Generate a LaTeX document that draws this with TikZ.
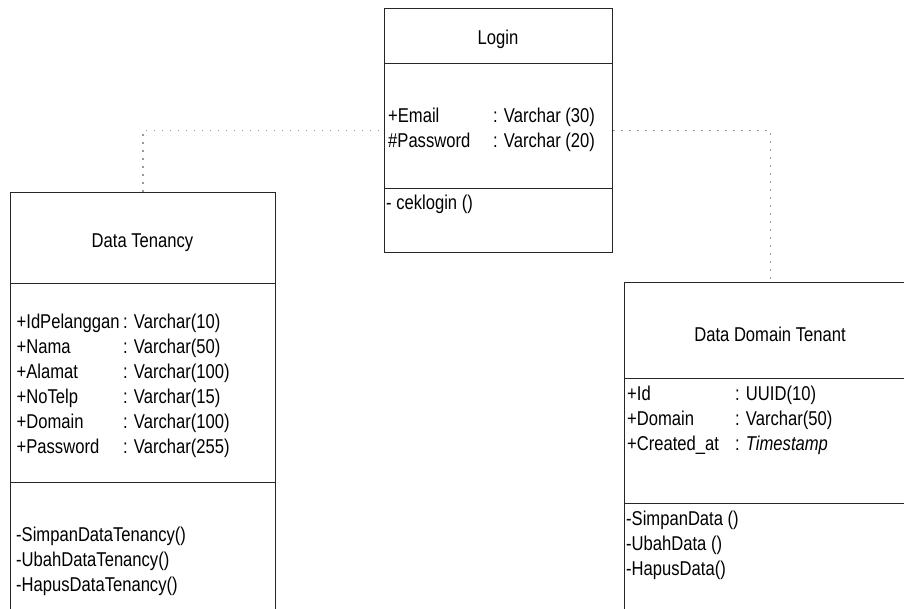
\documentclass[tikz,border=0pt]{standalone}
\usepackage{fontspec}
\newfontfamily\umlfont[FakeStretch=0.83]{Liberation Sans}
\usetikzlibrary{calc}
\begin{document}
\begin{tikzpicture}[x=1pt,y=-1pt,
  box/.style={draw=black!85, line width=1.3pt, rectangle, inner sep=0pt, anchor=north west},
  txt/.style={font=\umlfont\fontsize{20}{25}\selectfont, inner sep=0pt, anchor=base west, text=black},
  ttl/.style={txt, anchor=base},
  conn/.style={draw=black!40, line width=1.6pt, dash pattern=on 1.6pt off 6.4pt}]
\clip (0,0) rectangle (904,608);
% Login
\node[box, minimum width=228pt, minimum height=55pt] (lgT) at (384,8) {};
\node[box, minimum width=228pt, minimum height=125pt] (lgA) at (384,63) {};
\node[box, minimum width=228pt, minimum height=64pt] (lgM) at (384,188) {};
\node[ttl] (lgTt) at (498,44.5) {Login};
\node[txt] (lgA1) at (388,122) {\makebox[105pt][l]{+Email}: Varchar (30)};
\node[txt] (lgA2) at (388,147) {\makebox[105pt][l]{\#Password}: Varchar (20)};
\node[txt] (lgM1) at (386,209) {- ceklogin ()};
% Data Tenancy
\node[box, minimum width=265pt, minimum height=91pt] (dtT) at (10,192) {};
\node[box, minimum width=265pt, minimum height=199pt] (dtA) at (10,283) {};
\node[box, minimum width=265pt, minimum height=178pt] (dtM) at (10,482) {};
\node[ttl] (dtTt) at (142.5,247.5) {Data Tenancy};
\node[txt] (dtA1) at (16.5,328) {\makebox[106.5pt][l]{+IdPelanggan}: Varchar(10)};
\node[txt] (dtA2) at (16.5,353) {\makebox[106.5pt][l]{+Nama}: Varchar(50)};
\node[txt] (dtA3) at (16.5,378) {\makebox[106.5pt][l]{+Alamat}: Varchar(100)};
\node[txt] (dtA4) at (16.5,403) {\makebox[106.5pt][l]{+NoTelp}: Varchar(15)};
\node[txt] (dtA5) at (16.5,428) {\makebox[106.5pt][l]{+Domain}: Varchar(100)};
\node[txt] (dtA6) at (16.5,453) {\makebox[106.5pt][l]{+Password}: Varchar(255)};
\node[txt] (dtM1) at (16,541.5) {-SimpanDataTenancy()};
\node[txt] (dtM2) at (16,566.5) {-UbahDataTenancy()};
\node[txt] (dtM3) at (16,591.5) {-HapusDataTenancy()};
% Data Domain Tenant
\node[box, minimum width=292pt, minimum height=96pt] (ddT) at (624,282) {};
\node[box, minimum width=292pt, minimum height=125pt] (ddA) at (624,378) {};
\node[box, minimum width=292pt, minimum height=150pt] (ddM) at (624,503) {};
\node[ttl] (ddTt) at (770,341) {Data Domain Tenant};
\node[txt] (ddA1) at (627,400) {\makebox[108pt][l]{+Id}: UUID(10)};
\node[txt] (ddA2) at (627,425) {\makebox[108pt][l]{+Domain}: Varchar(50)};
\node[txt] (ddA3) at (627,450) {\makebox[108pt][l]{+Created\_at}: \textit{Timestamp}};
\node[txt] (ddM1) at (626,525) {-SimpanData ()};
\node[txt] (ddM2) at (626,550) {-UbahData ()};
\node[txt] (ddM3) at (626,575) {-HapusData()};
% connectors
\draw[conn] (dtT.north) |- ([yshift=-4.5pt]lgA.west);
\draw[conn] ([yshift=-4.5pt]lgA.east) -| (ddT.north);
\end{tikzpicture}
\end{document}
